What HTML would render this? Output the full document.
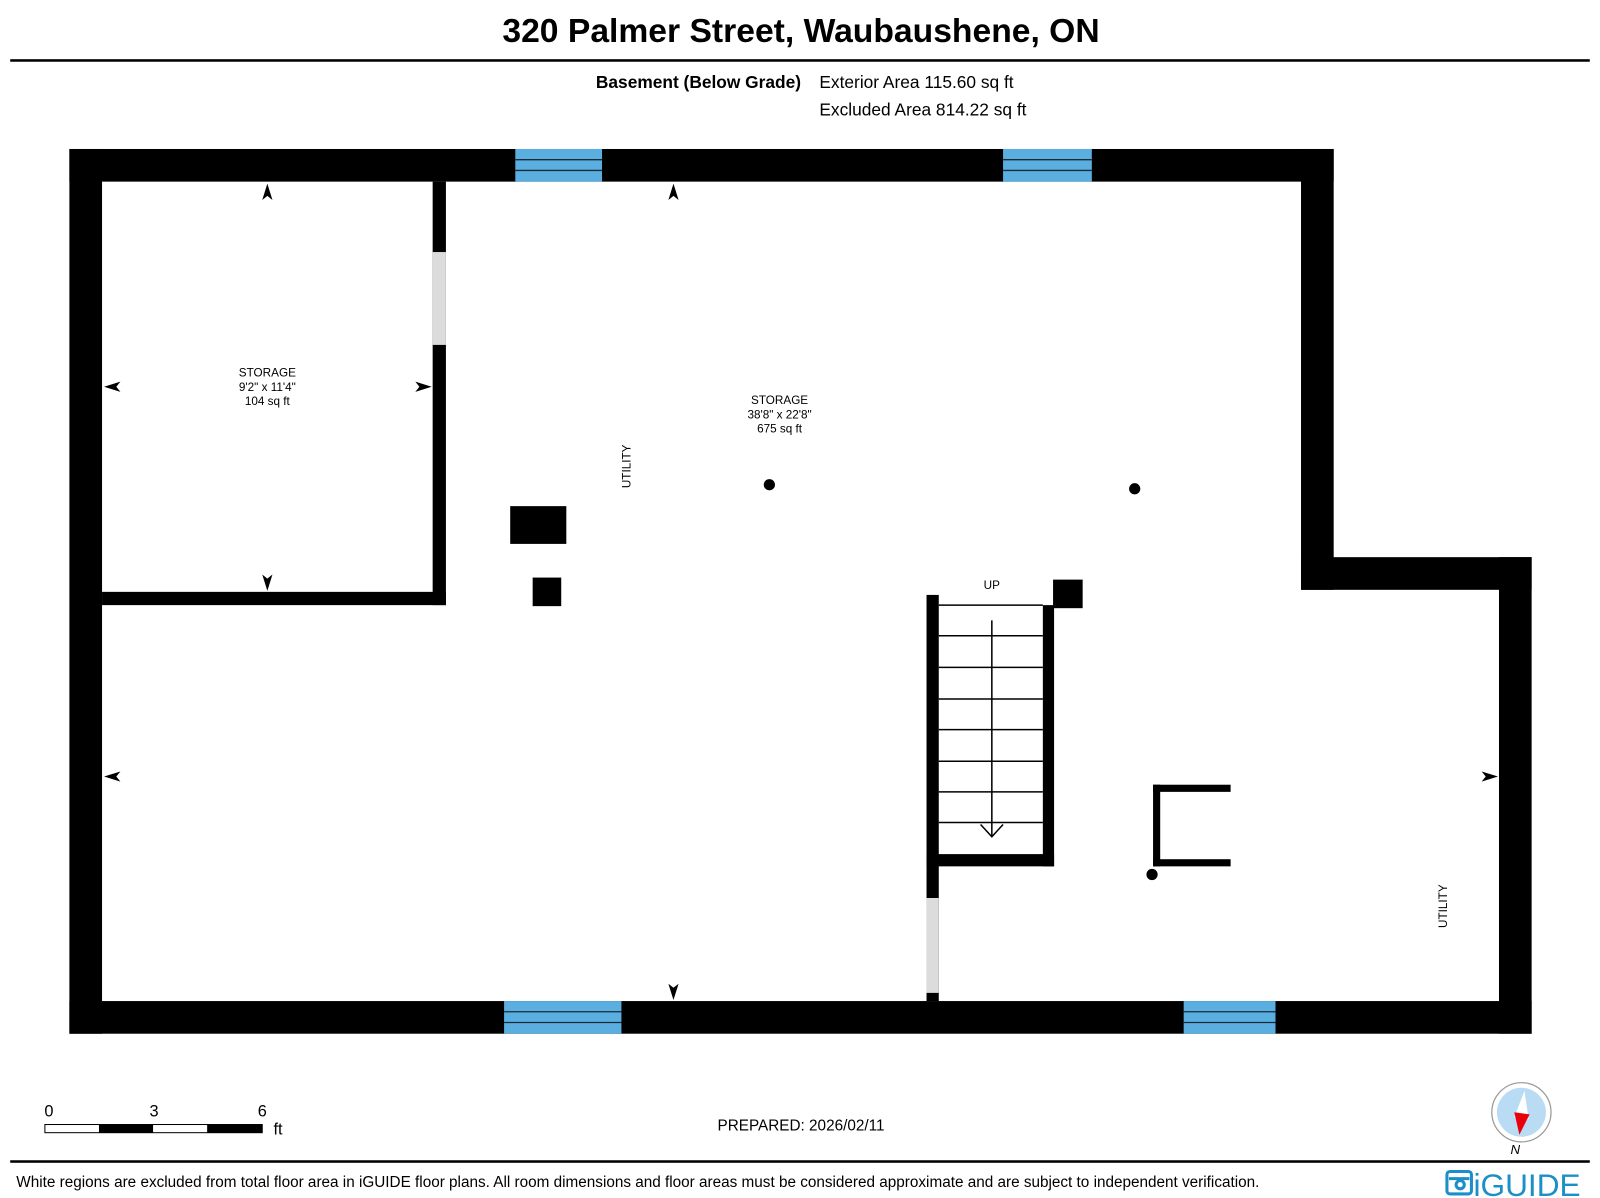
<!DOCTYPE html>
<html><head><meta charset="utf-8"><style>
html,body{margin:0;padding:0;background:#fff;}
svg{display:block;font-family:"Liberation Sans",Arial,sans-serif;}
</style></head><body>
<svg width="1600" height="1198" viewBox="0 0 1568 1174" preserveAspectRatio="none" xmlns="http://www.w3.org/2000/svg">
<rect width="1568" height="1174" fill="#fff"/>
<text x="785" y="41" text-anchor="middle" font-size="33" font-weight="bold">320 Palmer Street, Waubaushene, ON</text>
<rect x="10" y="58" width="1548" height="2.5" fill="#000"/>
<text x="785" y="86" text-anchor="end" font-size="17" font-weight="bold">Basement (Below Grade)</text>
<text x="803" y="86" font-size="17">Exterior Area 115.60 sq ft</text>
<text x="803" y="113" font-size="17">Excluded Area 814.22 sq ft</text>
<g fill="#000">
<rect x="68" y="146" width="1239" height="32"/>
<rect x="68" y="146" width="32" height="867"/>
<rect x="68" y="981" width="1433" height="32"/>
<rect x="1275" y="146" width="32" height="432"/>
<rect x="1275" y="546" width="226" height="32"/>
<rect x="1469" y="546" width="32" height="467"/>
<rect x="424" y="178" width="13" height="415"/>
<rect x="100" y="580" width="337" height="13"/>
<rect x="908" y="583" width="12" height="398"/>
<rect x="1022" y="593" width="11" height="256"/>
<rect x="908" y="837" width="125" height="12"/>
<rect x="1032" y="568" width="29" height="28"/>
<rect x="500" y="496" width="55" height="37"/>
<rect x="522" y="566" width="28" height="28"/>
<rect x="1130" y="769" width="7" height="80"/>
<rect x="1130" y="769" width="76" height="7"/>
<rect x="1130" y="842" width="76" height="7"/>
<circle cx="754" cy="475" r="5.5"/>
<circle cx="1112" cy="479" r="5.5"/>
<circle cx="1129" cy="857" r="5.5"/>
</g>
<rect x="424" y="247" width="13" height="91" fill="#dcdcdc"/>
<rect x="908" y="880" width="12" height="93" fill="#dcdcdc"/>
<g fill="#5aafe0">
<rect x="505" y="146" width="85" height="32"/>
<rect x="983" y="146" width="87" height="32"/>
<rect x="494" y="981" width="115" height="32"/>
<rect x="1160" y="981" width="90" height="32"/>
</g>
<g stroke="#1a2a35" stroke-width="1.3">
<line x1="505" y1="156.5" x2="590" y2="156.5"/><line x1="505" y1="167" x2="590" y2="167"/>
<line x1="983" y1="156.5" x2="1070" y2="156.5"/><line x1="983" y1="167" x2="1070" y2="167"/>
<line x1="494" y1="991.5" x2="609" y2="991.5"/><line x1="494" y1="1002" x2="609" y2="1002"/>
<line x1="1160" y1="991.5" x2="1250" y2="991.5"/><line x1="1160" y1="1002" x2="1250" y2="1002"/>
</g>
<g stroke="#000" stroke-width="1.5" fill="none">
<line x1="920" y1="593" x2="1022" y2="593"/>
<line x1="920" y1="623" x2="1022" y2="623"/>
<line x1="920" y1="654" x2="1022" y2="654"/>
<line x1="920" y1="685" x2="1022" y2="685"/>
<line x1="920" y1="715" x2="1022" y2="715"/>
<line x1="920" y1="746" x2="1022" y2="746"/>
<line x1="920" y1="776" x2="1022" y2="776"/>
<line x1="920" y1="806" x2="1022" y2="806"/>
<line x1="972" y1="608" x2="972" y2="820"/>
<polyline points="961,808 972,820 983,808"/>
</g>
<text x="972" y="577" text-anchor="middle" font-size="11.5">UP</text>
<g fill="#000">
<polygon points="262,180 257,196 262,192 267,196"/>
<polygon points="262,579 257,563 262,567 267,563"/>
<polygon points="102,379 118,374 114,379 118,384"/>
<polygon points="423,379 407,374 411,379 407,384"/>
<polygon points="660,180 655,196 660,192 665,196"/>
<polygon points="660,980 655,964 660,968 665,964"/>
<polygon points="102,761 118,756 114,761 118,766"/>
<polygon points="1468,761 1452,756 1456,761 1452,766"/>
</g>
<g font-size="11.5" text-anchor="middle">
<text x="262" y="369">STORAGE</text><text x="262" y="383">9'2" x 11'4"</text><text x="262" y="397">104 sq ft</text>
<text x="764" y="396">STORAGE</text><text x="764" y="410">38'8" x 22'8"</text><text x="764" y="424">675 sq ft</text>
<text transform="translate(618,457) rotate(-90)">UTILITY</text>
<text transform="translate(1418,888) rotate(-90)">UTILITY</text>
</g>
<g font-size="16">
<text x="48" y="1094" text-anchor="middle">0</text>
<text x="151" y="1094" text-anchor="middle">3</text>
<text x="257" y="1094" text-anchor="middle">6</text>
<text x="268" y="1112">ft</text>
</g>
<rect x="44" y="1102" width="213" height="8" fill="#fff" stroke="#000" stroke-width="1"/>
<rect x="97" y="1102" width="53" height="8" fill="#000"/>
<rect x="203" y="1102" width="54" height="8" fill="#000"/>
<text x="785" y="1108" text-anchor="middle" font-size="15">PREPARED: 2026/02/11</text>
<circle cx="1491" cy="1090" r="29" fill="#fff" stroke="#999" stroke-width="1.2"/>
<circle cx="1491" cy="1090" r="24" fill="#b9dcf4"/>
<polygon points="1494,1069 1484,1095 1498,1097" fill="#fff"/>
<polygon points="1484,1090 1499,1092 1489,1112" fill="#e8000b"/>
<text x="1485" y="1131" text-anchor="middle" font-size="13" font-style="italic">N</text>
<rect x="10" y="1137" width="1548" height="2.5" fill="#000"/>
<text x="16" y="1163" font-size="15">White regions are excluded from total floor area in iGUIDE floor plans. All room dimensions and floor areas must be considered approximate and are subject to independent verification.</text>
<g stroke="#1b8fc7" stroke-width="3" fill="none">
<rect x="1418" y="1148" width="24" height="22" rx="3"/>
<circle cx="1431" cy="1161" r="4"/>
<line x1="1420" y1="1155" x2="1440" y2="1155"/>
</g>
<text x="1444" y="1172" font-size="31" fill="#1b8fc7">iGUIDE</text>
</svg>
</body></html>
